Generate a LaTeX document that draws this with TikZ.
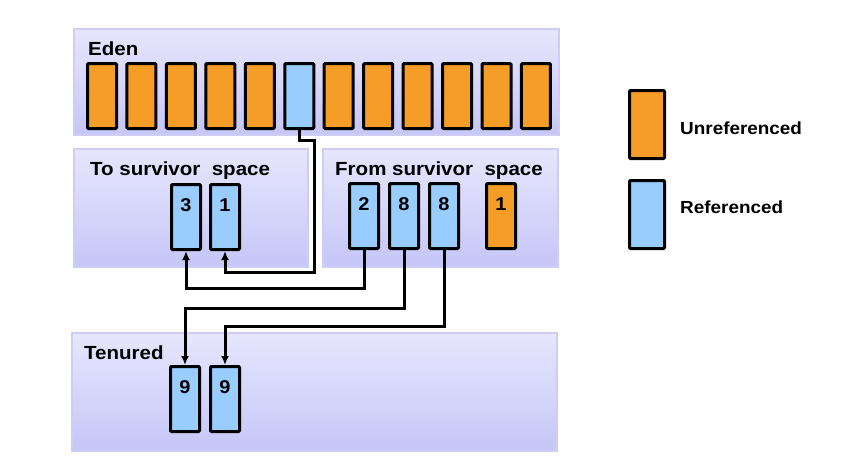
\documentclass[tikz,border=0pt]{standalone}
\usepackage{fontspec}
\setmainfont{Liberation Sans}[FakeStretch=1.08]
\usetikzlibrary{arrows.meta}
\definecolor{orng}{RGB}{245,157,38}
\definecolor{blu}{RGB}{153,204,255}
\definecolor{pantop}{RGB}{230,230,253}
\definecolor{panbot}{RGB}{198,198,248}
\definecolor{panedge}{RGB}{205,205,245}
\tikzset{
  x=1pt, y=-1pt,
  panel/.style={draw=panedge, line width=1.2pt, top color=pantop, bottom color=panbot},
  cell/.style={draw=black, line width=3pt, rounded corners=1pt, inner sep=0pt,
    minimum width=29pt, minimum height=65pt, anchor=north west,
    text height=27pt, text depth=38pt, font=\fontsize{18.5}{18.5}\selectfont\bfseries},
  refd/.style={cell, fill=blu},
  unref/.style={cell, fill=orng},
  lbl/.style={anchor=base west, inner sep=0pt, font=\fontsize{19}{19}\selectfont\bfseries},
  leglbl/.style={anchor=base west, inner sep=0pt, font=\fontsize{17.5}{17.5}\selectfont\bfseries},
  conn/.style={draw=black, line width=3pt, -{Latex[length=9pt,width=8pt]}}
}
\begin{document}
\begin{tikzpicture}
\fill[white] (0,0) rectangle (853,472);
\useasboundingbox (0,0) rectangle (853,472);
% panels
\path[panel] (74,29) rectangle (559,135);
\path[panel] (74,149) rectangle (308,267);
\path[panel] (323,149) rectangle (558,267);
\path[panel] (72,333) rectangle (557,451);
\node[lbl] (eden) at (88,55) {Eden};
\node[lbl] (tolbl) at (90,175) {To survivor\ \ space};
\node[lbl] (fromlbl) at (335,175) {From survivor\ \ space};
\node[lbl] (tenlbl) at (84,359) {Tenured};
% eden cells
\foreach \i in {0,...,11} {
  \ifnum\i=5
    \node[refd] (e\i) at ({86+39.45*\i},62) {};
  \else
    \node[unref] (e\i) at ({86+39.45*\i},62) {};
  \fi
}
% to survivor
\node[refd] (t3) at (170,183) {3};
\node[refd] (t1) at (209,183) {1};
% from survivor
\node[refd] (f2) at (348,182) {2};
\node[refd] (f8a) at (388,182) {8};
\node[refd] (f8b) at (428,182) {8};
\node[unref] (f1) at (485,182) {1};
% tenured
\node[refd] (n9a) at (169,365) {9};
\node[refd] (n9b) at (209,365) {9};
% legend
\node[unref, minimum width=35pt, minimum height=68pt] (lo) at (628,89) {};
\node[refd, minimum width=35pt, minimum height=68pt] (lb) at (628,179) {};
\node[leglbl] (lotxt) at (680,134) {Unreferenced};
\node[leglbl] (lbtxt) at (680,213) {Referenced};
% connectors
\coordinate (c1) at (314,140);
\coordinate (c2) at (314,272);
\coordinate (y288) at (0,288);
\coordinate (y308) at (0,308);
\coordinate (y326) at (0,326);
\draw[conn] (e5.south) |- (c1) -- (c2) -| (t1.south);
\draw[conn] (f2.south) |- (t3.south |- y288) -- (t3.south);
\draw[conn] (f8a.south) |- (n9a.north |- y308) -- (n9a.north);
\draw[conn] (f8b.south) |- (n9b.north |- y326) -- (n9b.north);
\end{tikzpicture}
\end{document}
